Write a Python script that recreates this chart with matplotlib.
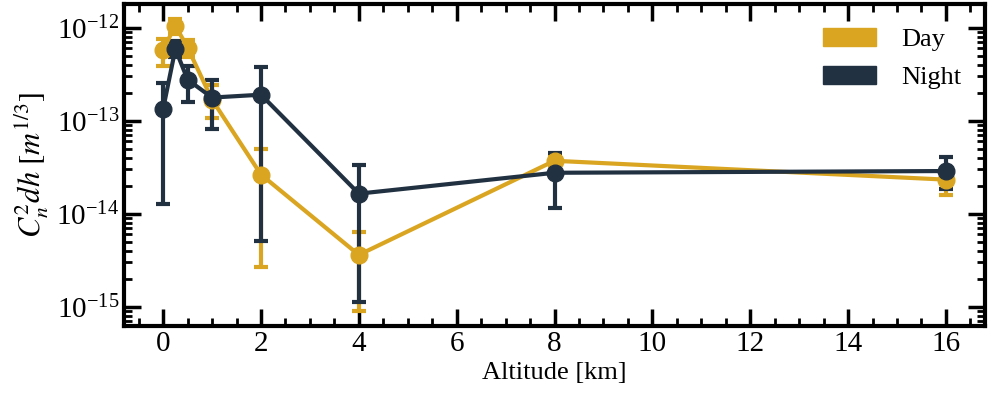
import matplotlib
matplotlib.use("Agg")
import matplotlib.pyplot as plt
import matplotlib.patches as mpatches
from matplotlib.ticker import MultipleLocator, FixedLocator, NullFormatter

plt.rcParams['font.family'] = ['Liberation Serif', 'DejaVu Serif']
plt.rcParams['mathtext.fontset'] = 'stix'

altitude = [0, 0.25, 0.5, 1, 2, 4, 8, 16]

day_val = [5.8e-13, 1.05e-12, 6.1e-13, 1.68e-13, 2.63e-14, 3.6e-15, 3.7e-14, 2.32e-14]
day_hi = [7.6e-13, 1.25e-12, 7.3e-13, 2.44e-13, 5.0e-14, 6.4e-15, 4.2e-14, 2.8e-14]
day_lo = [3.9e-13, 8.5e-13, 4.8e-13, 1.08e-13, 2.7e-15, 8.9e-16, 3.1e-14, 1.6e-14]

night_val = [1.34e-13, 5.9e-13, 2.76e-13, 1.77e-13, 1.9e-13, 1.64e-14, 2.75e-14, 2.87e-14]
night_hi = [2.56e-13, 7.1e-13, 3.9e-13, 2.76e-13, 3.8e-13, 3.3e-14, 4.5e-14, 4.1e-14]
night_lo = [1.28e-14, 4.8e-13, 1.6e-13, 8.2e-14, 5.1e-15, 1.12e-15, 1.16e-14, 1.86e-14]

y_major = [1e-15, 1e-14, 1e-13, 1e-12]

day_color = '#DAA520'
night_color = '#223142'

fig = plt.figure(figsize=(9.88, 3.98), dpi=100)
ax = fig.add_axes([0.1255, 0.181, 0.8715, 0.809])

for vals, hi, lo, col, lab in [(day_val, day_hi, day_lo, day_color, 'Day'),
                               (night_val, night_hi, night_lo, night_color, 'Night')]:
    yerr = [[v - l for v, l in zip(vals, lo)], [h - v for v, h in zip(vals, hi)]]
    ax.errorbar(altitude, vals, yerr=yerr, color=col, lw=3, marker='o', ms=12,
                capsize=5, capthick=3, elinewidth=3, label=lab)

ax.set_yscale('log')
ax.set_xlabel('Altitude [km]', fontsize=19)
ax.set_ylabel(r'$C_n^2 dh\ [m^{1/3}]$', fontsize=22)

ylo, yhi = ax.get_ylim()
ax.set_ylim(ylo, yhi)
minors = [m * d for d in [1e-16] + y_major for m in range(2, 10)]
minors = [v for v in minors if ylo <= v <= yhi]
ax.yaxis.set_major_locator(FixedLocator(y_major))
ax.yaxis.set_minor_locator(FixedLocator(minors))
ax.yaxis.set_minor_formatter(NullFormatter())

ax.xaxis.set_major_locator(MultipleLocator(2))
ax.xaxis.set_minor_locator(MultipleLocator(0.5))

ax.tick_params(which='both', direction='in', top=True, right=True, labelsize=21)
ax.tick_params(which='major', length=12, width=2.5)
ax.tick_params(which='minor', length=6, width=2)
for s in ax.spines.values():
    s.set_linewidth(3)

handles = [mpatches.Patch(color=day_color, label='Day'),
           mpatches.Patch(color=night_color, label='Night')]
ax.legend(handles=handles, loc='upper right', frameon=False, fontsize=19,
          handlelength=2.0, handleheight=0.7, handletextpad=0.95,
          labelspacing=0.55)

fig.savefig('out.png', dpi=100)
